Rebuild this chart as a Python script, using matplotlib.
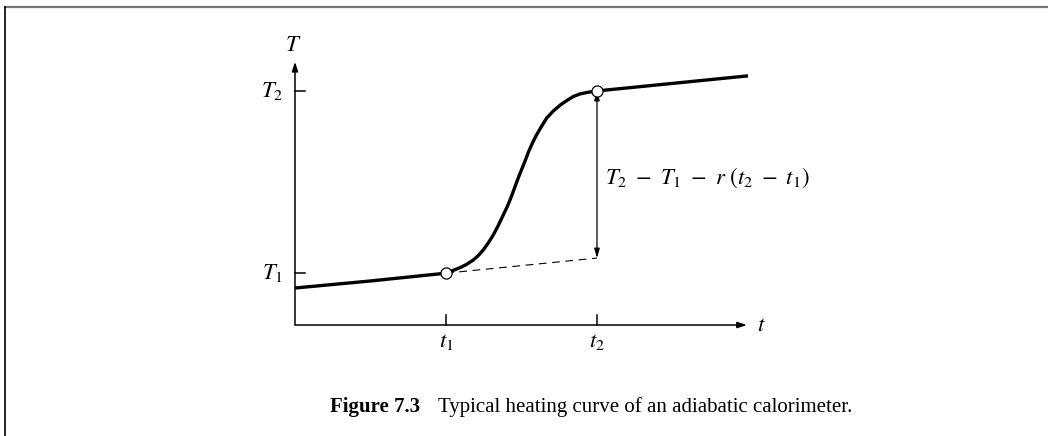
import matplotlib
matplotlib.use('Agg')
import matplotlib.pyplot as plt
from matplotlib.lines import Line2D

plt.rcParams['font.family'] = ['Liberation Serif', 'DejaVu Serif']
plt.rcParams['mathtext.fontset'] = 'stix'

# heating curve (time, temperature in arbitrary units)
t_curve = [0.0, 1.5, 3.0, 3.146, 3.28, 3.41, 3.54, 3.64, 3.74, 3.84, 3.94,
           4.04, 4.14, 4.23, 4.31, 4.39, 4.47, 4.56, 4.64, 4.72, 4.80, 4.90,
           5.00, 5.13, 5.27, 5.40, 5.53, 5.66, 5.80, 6.0, 7.5, 9.0]
T_curve = [0.735, 0.875, 1.03, 1.086, 1.14, 1.205, 1.29, 1.378, 1.49, 1.63, 1.79,
           1.98, 2.19, 2.38, 2.58, 2.80, 3.01, 3.23, 3.44, 3.62, 3.78, 3.95,
           4.11, 4.25, 4.37, 4.46, 4.54, 4.59, 4.62, 4.65, 4.80, 4.95]

t1, t2 = 3.0, 6.0
T1, T2 = 1.03, 4.65
T_extrap = 1.33          # fore-period line extrapolated to t2

t_max, T_max = 8.98, 5.23
tick_len = 0.2

fig = plt.figure(figsize=(10.48, 4.36), dpi=100)
ax = fig.add_axes([0, 0, 1, 1])
ax.set_xlim(-5.861, 14.961)
ax.set_ylim(-2.205, 6.457)
ax.axis('off')

# page frame
fig.add_artist(Line2D([0.005, 1.0], [0.984, 0.984], transform=fig.transFigure,
                      color='#777777', lw=1.6))
fig.add_artist(Line2D([0.005, 0.005], [0.0, 0.984], transform=fig.transFigure,
                      color='black', lw=1.2))

# axes with arrows
head = '-|>,head_length=0.55,head_width=0.18'
ax.annotate('', xy=(t_max, 0), xytext=(0, 0),
            arrowprops=dict(arrowstyle=head, color='black', lw=1.1,
                            shrinkA=0, shrinkB=0))
ax.annotate('', xy=(0, T_max), xytext=(0, 0),
            arrowprops=dict(arrowstyle=head, color='black', lw=1.1,
                            shrinkA=0, shrinkB=0))

# ticks
for tv in [t1, t2]:
    ax.plot([tv, tv], [0, tick_len], color='black', lw=1.1)
for Tv in [T1, T2]:
    ax.plot([0, tick_len], [Tv, Tv], color='black', lw=1.1)

fs = 16.5
ax.text(-0.04, 5.56, '$T$', ha='center', va='center', fontsize=fs)
ax.text(9.18, 0.0, '$t$', ha='left', va='center', fontsize=fs)
ax.text(-0.24, T2, '$T_2$', ha='right', va='center', fontsize=fs)
ax.text(-0.24, T1, '$T_1$', ha='right', va='center', fontsize=fs)
ax.text(t1, -0.12, '$t_1$', ha='center', va='top', fontsize=fs)
ax.text(t2, -0.12, '$t_2$', ha='center', va='top', fontsize=fs)

# curve and extrapolation
ax.plot(t_curve, T_curve, color='black', lw=2.4, solid_capstyle='butt',
        solid_joinstyle='round', zorder=3)
ax.plot([t1, t2], [T1, T_extrap], color='black', lw=0.8, dashes=(7, 5), zorder=2)

# temperature rise arrow
ax.annotate('', xy=(t2, T2), xytext=(t2, T_extrap),
            arrowprops=dict(arrowstyle='<|-|>,head_length=0.55,head_width=0.16',
                            color='black', lw=0.9, shrinkA=0, shrinkB=0), zorder=2)
ax.text(6.16, 2.92, r'$T_2\ -\ T_1\ -\ r\ (t_2\ -\ t_1)$', ha='left', va='center',
        fontsize=fs)

ax.plot([t1, t2], [T1, T2], 'o', ms=8, mfc='white', mec='black', mew=0.9, zorder=4)

# caption
cap = fig.text(0.315, 0.055, 'Figure 7.3', fontsize=15, fontweight='bold',
               ha='left', va='baseline')
ax.annotate('Typical heating curve of an adiabatic calorimeter.', xy=(1, 0),
            xycoords=cap, xytext=(13, 0), textcoords='offset points',
            fontsize=15, ha='left', va='bottom')

fig.savefig('out.png', dpi=100)
